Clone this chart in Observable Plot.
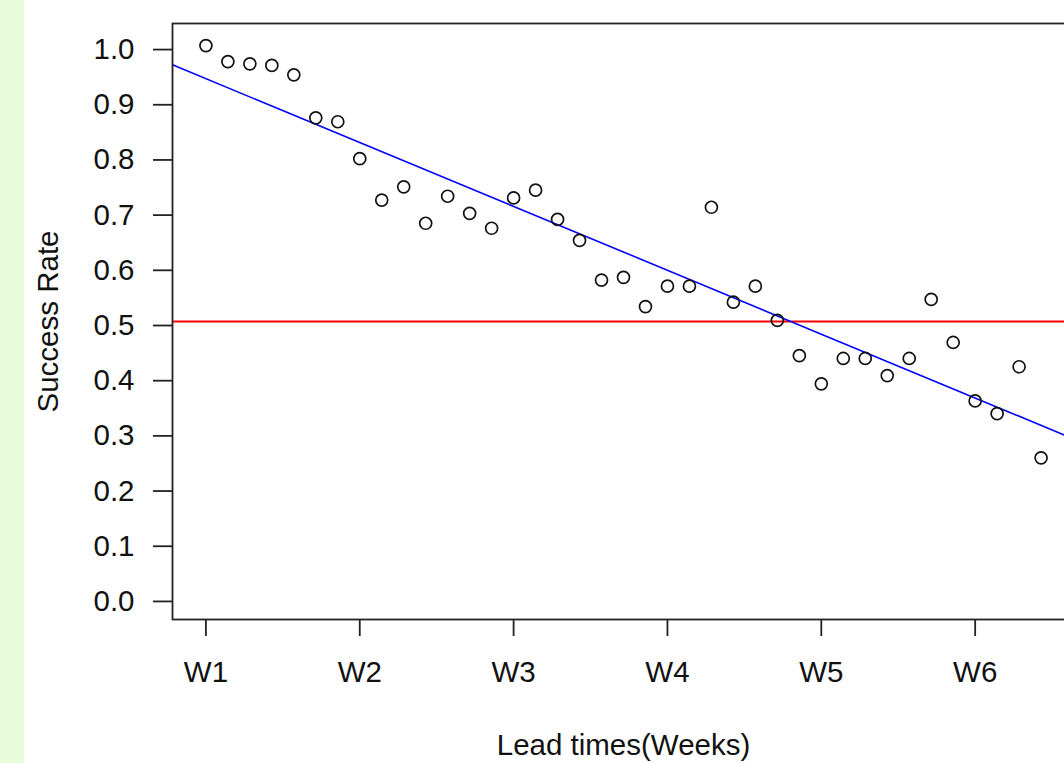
<!DOCTYPE html>
<html>
<head>
<meta charset="utf-8">
<script src="https://cdn.jsdelivr.net/npm/d3@7"></script>
<script src="https://cdn.jsdelivr.net/npm/@observablehq/plot@0.6"></script>
<style>
html, body { margin: 0; padding: 0; overflow: hidden; background: #fff; width: 1064px; height: 763px; }
#strip { position: absolute; left: 0; top: 0; width: 24px; height: 763px; background: #e9fcd9; }
#chart { position: absolute; left: 0; top: 0; width: 1100px; }
#chart svg { max-width: none !important; }
</style>
</head>
<body>
<div id="strip"></div>
<div id="chart"></div>
<script>
// Success rate per lead-time step (7 steps per week)
const leadIndex = d3.range(1, 40);
const successRate = [
  1.000, 0.971, 0.967, 0.964, 0.947, 0.869, 0.862,
  0.795, 0.720, 0.744, 0.678, 0.727, 0.696, 0.669,
  0.724, 0.738, 0.685, 0.647, 0.575, 0.580, 0.527,
  0.564, 0.564, 0.707, 0.535, 0.564, 0.502, 0.438,
  0.387, 0.433, 0.433, 0.402, 0.433, 0.540, 0.462,
  0.356, 0.333, 0.418, 0.253
];
const weekLabels = ["W1", "W2", "W3", "W4", "W5", "W6"];
const weekTicks = weekLabels.map((_, i) => 1 + 7 * i);
const yTicks = d3.range(0, 11).map(i => i / 10);
const threshold = [0.5];

const data = leadIndex.map((x, i) => ({x, y: successRate[i]}));

// least-squares fit
const mx = d3.mean(data, d => d.x), my = d3.mean(data, d => d.y);
const slope = d3.sum(data, d => (d.x - mx) * (d.y - my)) / d3.sum(data, d => (d.x - mx) ** 2);
const intercept = my - slope * mx;
const xDomain = [-0.52, 40.52];
const fit = xDomain.map(x => ({x, y: intercept + slope * x}));

const FONT = "'Liberation Sans', Arial, sans-serif";
const FS = 29.5;

const chart = Plot.plot({
  width: 1100,
  height: 763,
  marginLeft: 172,
  marginRight: 26,
  marginTop: 23,
  marginBottom: 144,
  style: {fontFamily: FONT, fontSize: FS + "px", color: "#111", background: "transparent", maxWidth: "none"},
  x: {type: "linear", domain: xDomain},
  y: {domain: [-0.04, 1.04]},
  marks: [
    Plot.ruleY(threshold, {stroke: "#ff0000", strokeWidth: 1.8}),
    Plot.line(fit, {x: "x", y: "y", stroke: "#0000ff", strokeWidth: 1.6, clip: true}),
    Plot.dot(data, {x: "x", y: "y", r: 6, stroke: "#111", strokeWidth: 1.7, fill: "none"}),
    Plot.frame({stroke: "#222", strokeWidth: 1.8}),
    Plot.axisY({ticks: yTicks, tickFormat: d => d.toFixed(1), tickSize: 19, tickPadding: 19, fontSize: FS, dy: 4, label: null, stroke: "#222", strokeWidth: 1.8}),
    Plot.axisX({ticks: weekTicks, tickFormat: (d, i) => weekLabels[i], tickSize: 17, tickPadding: 25, fontSize: FS, label: null, stroke: "#222", strokeWidth: 1.8}),
    Plot.text(["Success Rate"], {frameAnchor: "left", dx: -124, rotate: -90, textAnchor: "middle", lineAnchor: "middle", fontSize: FS, fill: "#111"}),
    Plot.text(["Lead times(Weeks)"], {frameAnchor: "bottom", dy: 126, textAnchor: "middle", lineAnchor: "middle", fontSize: FS, fill: "#111"})
  ]
});
document.getElementById("chart").appendChild(chart);
</script>
</body>
</html>
